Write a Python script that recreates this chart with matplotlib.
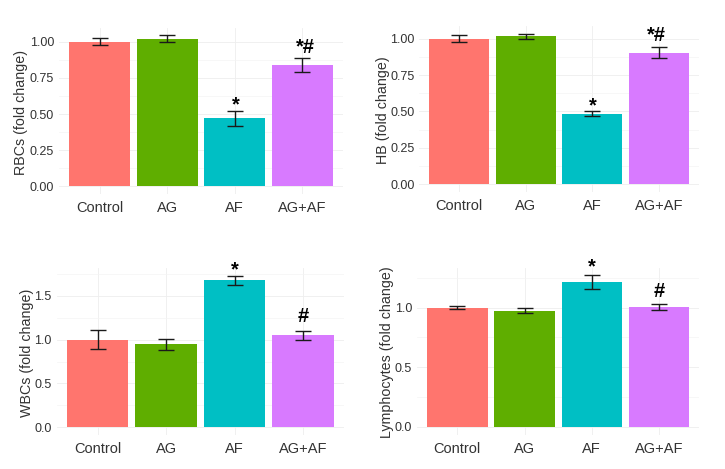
import numpy as np
import matplotlib.pyplot as plt

plt.rcParams['font.family'] = ['Liberation Sans', 'DejaVu Sans']

groups = ["Control", "AG", "AF", "AG+AF"]
bar_colors = ["#FF756E", "#5FAE00", "#00BFC4", "#D87AFF"]

# values
rbc = [1.00, 1.02, 0.47, 0.84]
rbc_err = [0.023, 0.024, 0.05, 0.05]
hb = [1.00, 1.015, 0.485, 0.905]
hb_err = [0.022, 0.018, 0.016, 0.038]
wbc = [1.00, 0.945, 1.675, 1.05]
wbc_err = [0.105, 0.067, 0.05, 0.053]
lym = [1.00, 0.975, 1.215, 1.005]
lym_err = [0.01, 0.02, 0.055, 0.025]

W, H = 725, 469


def panel(box, vals, errs, ylabel, ticks, fmt, ylim, label_xy, marks):
    # box is left, top, right, bottom in pixels
    l, t, r, b = box
    ax = fig.add_axes([l / W, 1 - b / H, (r - l) / W, (b - t) / H])
    x = np.arange(1, 5)
    ax.bar(x, vals, width=0.9, color=bar_colors, edgecolor='none', zorder=2)
    ax.errorbar(x, vals, yerr=errs, fmt='none', ecolor='#1a1a1a', elinewidth=1.0,
                capsize=6, capthick=1.0, zorder=3)
    ax.set_xlim(0.4, 4.6)
    ax.set_ylim(*ylim)
    ax.set_xticks(x)
    ax.set_xticklabels(groups, fontsize=10.5, color='#333333')
    ax.set_yticks(ticks)
    ax.set_yticklabels([fmt % v for v in ticks], fontsize=9, color='#333333')
    step = ticks[1] - ticks[0]
    minor = np.arange(step / 2, ylim[1], step)
    ax.set_yticks(minor, minor=True)
    ax.tick_params(which='both', length=0)
    ax.tick_params(axis='x', pad=5)
    ax.tick_params(axis='y', pad=3.5)
    ax.grid(True, which='major', color='#eeeeee', linewidth=0.6, zorder=0)
    ax.grid(True, which='minor', axis='y', color='#f4f4f4', linewidth=0.5, zorder=0)
    ax.set_axisbelow(True)
    for s in ax.spines.values():
        s.set_visible(False)
    ax.set_ylabel(ylabel, fontsize=10.3, color='#333333', va='center')
    ax.yaxis.set_label_coords(label_xy[0] / W, 1 - label_xy[1] / H, transform=fig.transFigure)
    for mx, my, txt in marks:
        ax.text(mx, my, txt, ha='center', va='center', fontsize=14.5, fontweight='bold', color='black')
    return ax


fig = plt.figure(figsize=(W / 100, H / 100), dpi=100)

panel((59, 27.6, 343, 194), rbc, rbc_err, "RBCs (fold change)",
      [0, 0.25, 0.5, 0.75, 1.0], '%.2f', (-0.052, 1.097), (21, 112),
      [(3.02, 0.56, "*"), (4.05, 0.96, "*#")])
panel((419.4, 26, 698.7, 191.9), hb, hb_err, "HB (fold change)",
      [0, 0.25, 0.5, 0.75, 1.0], '%.2f', (-0.052, 1.087), (383, 110),
      [(3.0, 0.54, "*"), (3.97, 1.025, "*#")])
panel((56.6, 268, 344, 434.9), wbc, wbc_err, "WBCs (fold change)",
      [0, 0.5, 1.0, 1.5], '%.1f', (-0.087, 1.817), (27, 353),
      [(3.0, 1.80, "*"), (4.0, 1.26, "#")])
panel((417, 267.7, 699.3, 434.6), lym, lym_err, "Lymphocytes (fold change)",
      [0, 0.5, 1.0], '%.1f', (-0.064, 1.335), (387, 352),
      [(3.0, 1.345, "*"), (4.0, 1.135, "#")])

fig.savefig("out.png", dpi=100)
